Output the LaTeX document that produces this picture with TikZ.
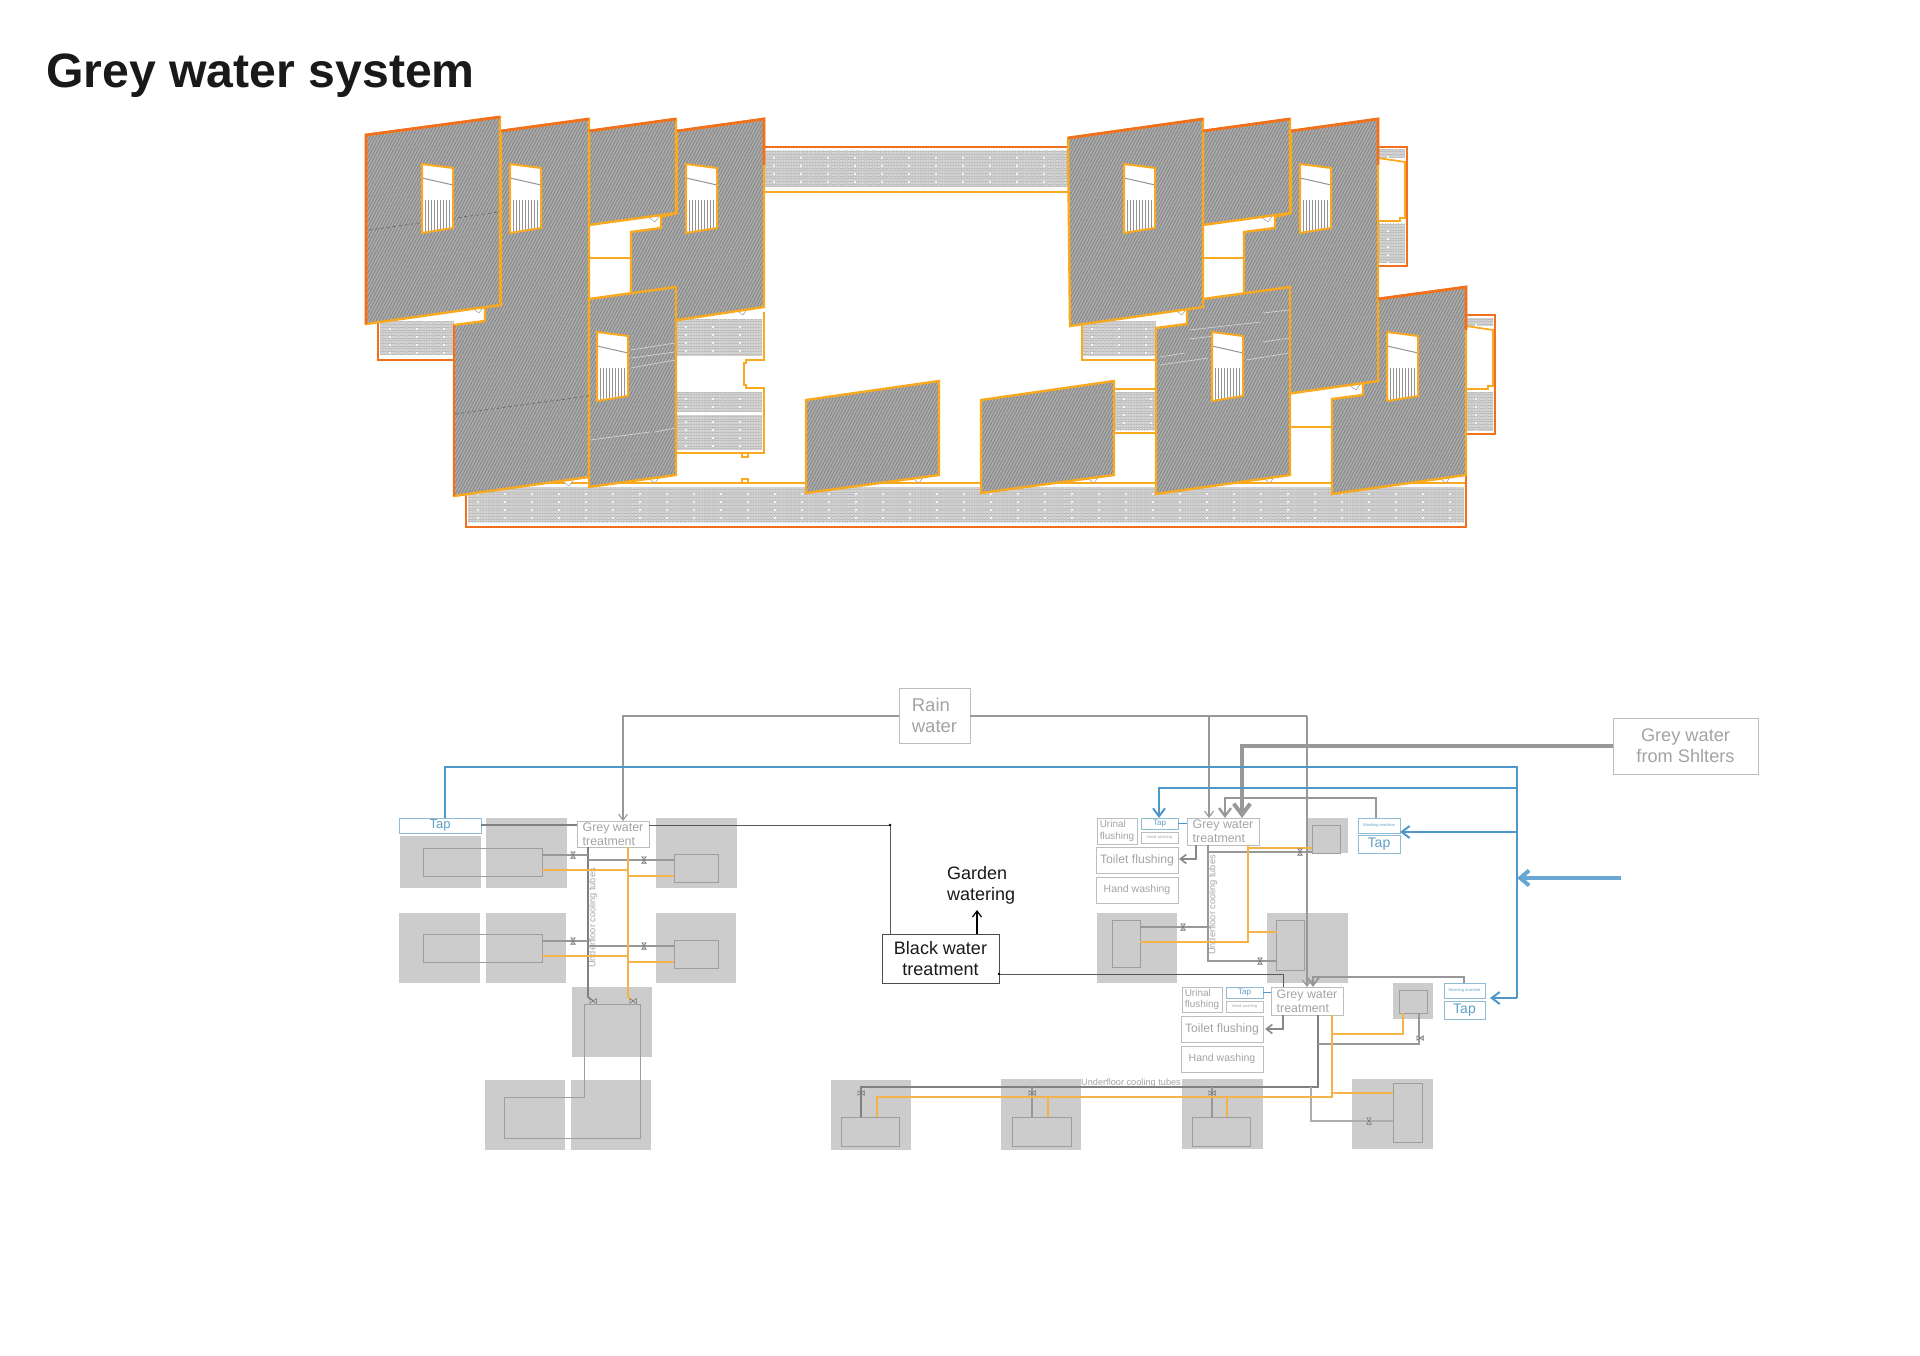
\documentclass[tikz,border=0pt]{standalone}
\usepackage{fontspec}
\setmainfont{Liberation Sans}
\usetikzlibrary{arrows.meta,patterns.meta}
\definecolor{orgD}{HTML}{F0701E}
\definecolor{orgA}{HTML}{F8A91F}
\definecolor{pipeO}{HTML}{F4B24A}
\definecolor{bluL}{HTML}{4F97CB}
\definecolor{bluB}{HTML}{8FBBD6}
\definecolor{bluT}{HTML}{5F9FC4}
\definecolor{greyL}{HTML}{989898}
\definecolor{greyB}{HTML}{BDBDBD}
\definecolor{greyT}{HTML}{A3A3A3}
\definecolor{roomC}{HTML}{CCCCCC}
\newcommand{\fsz}[1]{\pgfmathsetmacro\bsk{#1*1.17}\fontsize{#1}{\bsk}\selectfont}
\tikzset{
  sz/.style 2 args={anchor=north west,minimum width=#1pt,minimum height=#2pt},
  boxg/.style={draw=greyB,line width=1pt,inner sep=0pt,outer sep=0pt,text=greyT,align=center},
  boxb/.style={draw=bluB,line width=1pt,inner sep=0pt,outer sep=0pt,text=bluT,align=center},
  boxk/.style={draw=black!70,line width=1pt,inner sep=0pt,outer sep=0pt,text=black!90,align=center},
  treat/.style={boxg,font=\fontsize{12.4}{14}\selectfont,align=left},
  room/.style={fill=roomC,inner sep=0pt,outer sep=0pt},
  inrect/.style={draw=black!38,line width=1pt,inner sep=0pt,outer sep=0pt},
  panel/.style={draw=orgA,line width=2.4pt,line join=miter,preaction={fill=black!32},
    pattern={Lines[angle=62,distance=2.7pt,line width=1pt]},pattern color=black!47},
  edgeD/.style={draw=orgD,line width=2.8pt},
  edgeA/.style={draw=orgA,line width=1.8pt},
  pipeg/.style={draw=greyL,line width=1.1pt},
  pipeo/.style={draw=pipeO,line width=1.4pt},
  blueline/.style={draw=bluL,line width=2pt},
  tip/.style={-{Straight Barb[length=#1pt,width=#1*1.5pt]}},
  valve/.pic={\draw[black!55,line width=.6pt,fill=black!15] (-2.2,-3.2) -- (2.2,-3.2) -- (-2.2,3.2) -- (2.2,3.2) -- cycle;}
}
% one strip of the roof: grey grid with white studs
\newcommand{\corridor}[4]{
  \begin{scope}
    \clip (#1,#2) rectangle (#3,#4);
    \fill[black!16] (#1,#2) rectangle (#3,#4);
    \fill[pattern={Lines[angle=0,distance=2.7pt,line width=.8pt]},pattern color=black!28] (#1,#2) rectangle (#3,#4);
    \fill[pattern={Lines[angle=90,distance=2.7pt,line width=.7pt]},pattern color=black!22] (#1,#2) rectangle (#3,#4);
    \foreach \i in {0,...,38} \foreach \j in {0,...,4}
      \fill[white,opacity=.8] ({#1+9+\i*27},{#2+6+\j*8}) rectangle ++(2.4,2.4);
  \end{scope}
}
% window opening with its stair
\newcommand{\window}[2]{
  \begin{scope}
    \clip (#1,#2) -- ({#1+31},{#2+4}) -- ({#1+31},{#2+64}) -- (#1,{#2+69}) -- cycle;
    \fill[white] (#1,#2) rectangle ({#1+31},{#2+69});
    \foreach \i in {1,...,9}
      \draw[black!42,line width=1.1pt] ({#1+\i*3.1},{#2+36}) -- ++(0,34);
  \end{scope}
  \draw[black!42,line width=1pt] (#1,{#2+14}) -- ({#1+31},{#2+21});
  \draw[orgA,line width=2pt] (#1,#2) -- ({#1+31},{#2+4}) -- ({#1+31},{#2+64}) -- (#1,{#2+69}) -- cycle;
}
\begin{document}
\begin{tikzpicture}[x=1pt,y=-1pt,>=Stealth]
\useasboundingbox (0,0) rectangle (1920,1356);
\node[anchor=base west,inner sep=0pt,text=black!90,font=\bfseries\fontsize{48.2}{52}\selectfont] (title) at (46,88) {Grey water system};

% strips under the roofs
\corridor{764}{151}{1068}{187}
\corridor{1378}{150}{1405}{158}
\corridor{1378}{224}{1405}{263}
\corridor{1466}{318}{1493}{326}
\corridor{1466}{392}{1493}{431}
\corridor{380}{322}{454}{355}
\corridor{676}{320}{762}{356}
\corridor{676}{392}{762}{412}
\corridor{676}{415}{762}{450}
\corridor{1082}{322}{1156}{356}
\corridor{1114}{392}{1156}{430}
\corridor{468}{487}{1464}{522}
\draw[edgeD] (764,147) -- (1068,147);
\draw[edgeA] (764,192) -- (1068,192);
\draw[edgeD] (1378,147) -- (1407,147) -- (1407,266) -- (1378,266);
\draw[edgeA] (1378,158) -- (1405,162) -- (1405,218) -- (1400,218) -- (1400,221) -- (1378,221);
\draw[edgeD] (1466,315) -- (1495,315) -- (1495,434) -- (1466,434);
\draw[edgeA] (1466,326) -- (1493,330) -- (1493,386) -- (1488,386) -- (1488,389) -- (1466,389);
\draw[edgeD] (378,320) -- (378,360) -- (454,360);
\draw[edgeA] (764,312) -- (764,360) -- (746,360) -- (746,363) -- (744,363) -- (744,385) -- (746,385) -- (746,388) -- (764,388) -- (764,453) -- (676,453);
\draw[edgeA] (742,453) -- (742,457) -- (748,457) -- (748,453);
\draw[edgeA] (1082,325) -- (1082,360) -- (1156,360);
\draw[edgeA] (1114,389) -- (1156,389);
\draw[edgeA] (1114,433) -- (1156,433);
\draw[edgeA] (589,258) -- (631,258);
\draw[edgeA] (1203,258) -- (1244,258);
\draw[edgeA] (1290,427) -- (1332,427);
\draw[edgeA] (466,483) -- (1466,483);
\draw[edgeA] (742,483) -- (742,479) -- (748,479) -- (748,483);
\draw[edgeD] (466,490) -- (466,527) -- (1466,527) -- (1466,470);

% roof marks
\foreach \tx/\ty in {478/310,654/219,742/312,568/483,654/480,918/480,1181/312,1267/219,1355/387,1093/480,1269/480,1445/480}
  \draw[black!40,fill=white,line width=.5pt] (\tx-6,\ty-2) -- (\tx+6,\ty-4) -- (\tx+1,\ty+3) -- cycle;

% roof panels
\draw[panel] (677,131) -- (764,119) -- (764,307) -- (631,327) -- (631,232) -- (661,228) -- (661,217) -- (677,213) -- cycle;
\draw[panel] (589,131) -- (676,119) -- (676,213) -- (589,225) -- cycle;
\draw[panel] (501,131) -- (589,119) -- (589,477) -- (454,496) -- (454,325) -- (485,321) -- (485,307) -- (501,305) -- cycle;
\draw[panel] (589,299) -- (676,287) -- (676,475) -- (589,487) -- cycle;
\draw[panel] (366,135) -- (500,117) -- (500,305) -- (366,324) -- cycle;
\draw[panel] (806,400) -- (939,381) -- (939,475) -- (806,493) -- cycle;
\draw[panel] (981,400) -- (1114,381) -- (1114,475) -- (981,493) -- cycle;
\draw[panel] (1378,299) -- (1466,287) -- (1466,475) -- (1332,494) -- (1332,399) -- (1363,395) -- (1363,383) -- (1378,381) -- cycle;
\draw[panel] (1291,131) -- (1378,119) -- (1378,381) -- (1244,400) -- (1244,232) -- (1275,228) -- (1275,217) -- (1291,213) -- cycle;
\draw[panel] (1203,299) -- (1290,287) -- (1290,475) -- (1156,494) -- (1156,328) -- (1187,324) -- (1187,310) -- (1203,305) -- cycle;
\draw[panel] (1203,131) -- (1290,119) -- (1290,213) -- (1203,225) -- cycle;
\draw[panel] (1068,138) -- (1203,119) -- (1203,307) -- (1070,326) -- cycle;
% darker edges
\draw[edgeD] (366,324) -- (366,135) -- (500,117);
\draw[edgeD] (454,496) -- (454,325);
\draw[edgeD] (501,131) -- (589,119);
\draw[edgeD] (589,131) -- (676,119);
\draw[edgeD] (677,131) -- (764,119) -- (764,165);
\draw[edgeD] (1068,138) -- (1203,119);
\draw[edgeD] (1203,131) -- (1290,119);
\draw[edgeD] (1291,131) -- (1378,119) -- (1378,165);
\draw[edgeD] (1378,299) -- (1466,287) -- (1466,330);
% seams and faint lines on the panels
\draw[black!60,line width=.7pt,dashed] (369,230) -- (499,212);
\draw[black!60,line width=.7pt,dashed] (455,414) -- (589,396);
\foreach \ax/\ay/\bx/\by in {631/350/675/343,631/358/675/352,631/368/675/360,590/440/650/432,655/432/675/428,1189/330/1261/322,1189/339/1223/335,1160/357/1185/353,1160/365/1208/358,1246/360/1289/353,1263/342/1289/338,1263/313/1289/310}
  \draw[black!18,line width=.7pt] (\ax,\ay) -- (\bx,\by);
% windows
\window{422}{164}
\window{510}{164}
\window{686}{164}
\window{597}{332}
\window{1124}{164}
\window{1300}{164}
\window{1212}{332}
\window{1387}{332}

% rooms of the plan
\foreach \n/\x/\y/\w/\h in {rA/400/836/81/52,rB/486/818/81/70,rC/656/818/81/70,rD/399/913/81/70,rE/486/913/80/70,rF/656/913/80/70,rG/572/987/80/70,rH/485/1080/80/70,rI/571/1080/80/70,rJ/1097/913/80/70,rK/1267/913/81/70,rL/1307/818/41/35,rM/1393/983/40/36,rN/831/1080/80/70,rO/1001/1079/80/71,rP/1182/1079/81/70,rQ/1352/1079/81/70}
  \node[room,sz={\w}{\h}] (\n) at (\x,\y) {};
\foreach \n/\x/\y/\w/\h in {iA/423/848/119/28,iB/423/934/119/28,iC/674/854/44/28,iD/674/940/44/28,iE/1112/920/28/47,iF/1276/920/28/50,iG/1312/825/28/28,iH/1399/990/28/23,iI/841/1117/58/29,iJ/1012/1117/59/29,iK/1192/1117/58/29,iL/1393/1083/29/59}
  \node[inrect,sz={\w}{\h}] (\n) at (\x,\y) {};
\coordinate (lpA) at (584,1004);
\coordinate (lpB) at (640,1004);
\coordinate (lpC) at (640,1138);
\coordinate (lpD) at (504,1138);
\coordinate (lpE) at (504,1097);
\coordinate (lpF) at (584,1097);
\draw[inrect] (lpA) -- (lpB) -- (lpC) -- (lpD) -- (lpE) -- (lpF) -- cycle;

% labelled boxes
\node[boxg,sz={71}{55},font=\fsz{18.5},align=left] (rain) at (899,688) {Rain\\water};
\node[boxg,sz={145}{56},font=\fsz{18.2}] (shelter) at (1613,718) {Grey water\\from Shlters};
\node[boxk,sz={117}{49},font=\fsz{18}] (black) at (882,934) {Black water\\treatment};
\node[inner sep=0pt,align=left,anchor=north west,text=black!90,font=\fsz{18}] (garden) at (947,866) {Garden\\watering};
\node[boxb,sz={82}{15},font=\fsz{13}] (tapL) at (399,818) {Tap};
\node[treat,sz={72}{26}] (treatL) at (577,821) {Grey water\\treatment};
\node[treat,sz={72}{27}] (treatR) at (1187,818) {Grey water\\treatment};
\node[treat,sz={72}{28}] (treatB) at (1271,987) {Grey water\\treatment};
\node[boxg,sz={40}{26},font=\fsz{10},align=left] (urinR) at (1097,818) {Urinal\\flushing};
\node[boxb,sz={37}{11},font=\fsz{8}] (tapR) at (1141,818) {Tap};
\node[boxg,sz={37}{11},font=\fsz{4}] (handtR) at (1141,832) {Hand washing};
\node[boxg,sz={82}{26},font=\fsz{12.2}] (toilR) at (1096,847) {Toilet flushing};
\node[boxg,sz={82}{26},font=\fsz{10.5}] (handR) at (1096,877) {Hand washing};
\node[boxb,sz={42}{15},font=\fsz{4}] (washR) at (1358,818) {Washing machine};
\node[boxb,sz={42}{18},font=\fsz{14}] (tapW) at (1358,835) {Tap};
\node[boxg,sz={40}{25},font=\fsz{10},align=left] (urinB) at (1182,987) {Urinal\\flushing};
\node[boxb,sz={37}{11},font=\fsz{8}] (tapB) at (1226,987) {Tap};
\node[boxg,sz={37}{11},font=\fsz{4}] (handtB) at (1226,1001) {Hand washing};
\node[boxg,sz={82}{26},font=\fsz{12.2}] (toilB) at (1181,1016) {Toilet flushing};
\node[boxg,sz={82}{26},font=\fsz{10.5}] (handB) at (1181,1046) {Hand washing};
\node[boxb,sz={41}{15},font=\fsz{4}] (washB) at (1444,983) {Washing machine};
\node[boxb,sz={41}{18},font=\fsz{14}] (tapZ) at (1444,1001) {Tap};
\node[text=greyT,inner sep=0pt,font=\fsz{9.2},rotate=90] (ufL) at (593,918) {Underfloor cooling tubes};
\node[text=greyT,inner sep=0pt,font=\fsz{9.2},rotate=90] (ufR) at (1213,905) {Underfloor cooling tubes};
\node[text=greyT,inner sep=0pt,font=\fsz{9.2}] (ufB) at (1131,1083) {Underfloor cooling tubes};

% junction points of the supply lines
\foreach \n/\x/\y in {rainL/623/716,rainM/1209/716,rainR/1307/716,inL/623/821,inR/1209/818,inB/1307/987,
  heavyA/1242/746,heavyB/1242/818,washA/1376/818,washC/1225/798,washD/1225/818,
  wbA/1464/983,wbC/1313/977,wbD/1313/987,
  blueA/445/767,blueB/1517/767,blueC/1159/788,blueD/1159/818,blueE/1517/788,blueF/1517/832,blueG/1517/998,blueH/1490/998,blueI/1517/878,blueJ/1621/878,
  tapLr/481/825,tapTl/577/825,blkA/649/825,blkB/890/825,blkC/890/934,blkD/999/974,blkE/1283/974,blkF/1283/987,
  gardA/977/934,gardB/977/910,
  toilA/1196/845,toilB/1196/859,toilC/1179/859,toiA/1283/1015,toiB/1283/1029,toiC/1265/1029,
  tapRa/1178/823,tapRb/1187/823,tapBa/1263/992,tapBb/1271/992}
  \coordinate (\n) at (\x,\y);
\draw[pipeg,tip=6] (rain.west |- rainL) -- (rainL) -- (inL);
\draw[pipeg] (rain.east |- rainL) -- (rainR);
\draw[pipeg,tip=6] (rainM) -- (inR);
\draw[pipeg,tip=6] (rainR) -- (inB);
\draw[draw=greyL,line width=4pt,tip=11] (shelter.west |- heavyA) -- (heavyA) -- (heavyB);
\draw[draw=greyL,line width=2.3pt,tip=8] (washR.north -| washA) -- (washA |- washC) -- (washC) -- (washD);
\draw[draw=greyL,line width=2pt,tip=8] (washB.north -| wbA) -- (wbA |- wbC) -- (wbC) -- (wbD);
\draw[blueline] (tapL.north -| blueA) -- (blueA) -- (blueB) -- (blueG);
\draw[blueline,tip=8] (blueE) -- (blueC) -- (blueD);
\draw[blueline,tip=8] (blueF) -- (washR.east |- blueF);
\draw[blueline,tip=8] (blueG) -- (blueH);
\draw[draw=bluL!85,line width=4pt,-{Straight Barb[length=9pt,width=15pt]}] (blueJ) -- (blueI);
\draw[draw=bluL,line width=1pt] (tapRa) -- (tapRb);
\draw[draw=bluL,line width=1pt] (tapBa) -- (tapBb);
\draw[draw=black!50,line width=1.2pt] (tapLr) -- (tapTl);
\draw[draw=black!65,line width=1pt] (blkA) -- (blkB) -- (blkC);
\draw[draw=black!65,line width=1pt] (blkD) -- (blkE) -- (blkF);
\fill[black] (blkB) circle (1.3pt);
\fill[black] (blkD) circle (1.3pt);
\draw[black,line width=1.2pt,tip=6] (gardA) -- (gardB);
\draw[draw=greyL!90!black,line width=1.6pt,tip=6] (toilA) -- (toilB) -- (toilC);
\draw[draw=greyL!90!black,line width=1.6pt,tip=6] (toiA) -- (toiB) -- (toiC);

% pipes of the left wing
\foreach \n/\x/\y in {lg1/588/847,lg2/588/997,lg3/593/1001,lA1/542/855,lA2/588/855,lB1/588/860,lB2/674/860,lC1/542/941,lC2/588/941,lD1/588/946,lD2/674/946,
  lo1/628/847,lo2/628/997,lo3/633/1001,lE1/542/870,lE2/628/870,lF1/628/876,lF2/674/876,lG1/542/956,lG2/628/956,lH1/628/962,lH2/674/962,
  rg1/1208/845,rg2/1208/961,rg3/1276/961,rg4/1208/852,rg5/1312/852,rg6/1140/927,rg7/1208/927,
  ro1/1248/845,ro2/1248/942,ro3/1140/942,ro4/1248/848,ro5/1312/848,ro6/1248/932,ro7/1277/932,
  bg1/1318/1015,bg2/1318/1087,bg3/861/1087,bg4/861/1117,bg5/1032/1087,bg6/1032/1117,bg7/1212/1087,bg8/1212/1117,bg9/1318/1044,bg10/1419/1044,bg11/1419/1013,bg12/1311/1087,bg13/1311/1121,bg14/1393/1121,
  bo1/1332/1015,bo2/1332/1097,bo3/877/1097,bo4/877/1117,bo5/1048/1097,bo6/1048/1117,bo7/1227/1097,bo8/1227/1117,bo9/1332/1034,bo10/1403/1034,bo11/1403/1013,bo12/1332/1093,bo13/1393/1093}
  \coordinate (\n) at (\x,\y);
\draw[pipeg,line width=1.6pt,draw=black!50] (lg1) -- (lg2) -- (lg3);
\draw[pipeg] (lA1) -- (lA2);
\draw[pipeg] (lB1) -- (lB2);
\draw[pipeg] (lC1) -- (lC2);
\draw[pipeg] (lD1) -- (lD2);
\draw[pipeo,line width=1.8pt] (lo1) -- (lo2) -- (lo3);
\draw[pipeo] (lE1) -- (lE2);
\draw[pipeo] (lF1) -- (lF2);
\draw[pipeo] (lG1) -- (lG2);
\draw[pipeo] (lH1) -- (lH2);
% right wing
\draw[pipeg] (rg1) -- (rg2) -- (rg3);
\draw[pipeg] (rg4) -- (rg5);
\draw[pipeg] (rg6) -- (rg7);
\draw[pipeo] (ro1) -- (ro2) -- (ro3);
\draw[pipeo] (ro4) -- (ro5);
\draw[pipeo] (ro6) -- (ro7);
% bottom row
\draw[pipeg,draw=black!50] (bg1) -- (bg2) -- (bg3) -- (bg4);
\draw[pipeg] (bg5) -- (bg6);
\draw[pipeg] (bg7) -- (bg8);
\draw[pipeg] (bg9) -- (bg10) -- (bg11);
\draw[pipeg,draw=greyL!80] (bg12) -- (bg13) -- (bg14);
\draw[pipeo,line width=1.8pt] (bo1) -- (bo2) -- (bo3) -- (bo4);
\draw[pipeo] (bo5) -- (bo6);
\draw[pipeo] (bo7) -- (bo8);
\draw[pipeo] (bo9) -- (bo10) -- (bo11);
\draw[pipeo] (bo12) -- (bo13);

% valves
\foreach \vx/\vy in {573/855,644/860,573/941,644/946,1300/852,1183/927,1260/961,1369/1121}
  \pic at (\vx,\vy) {valve};
\foreach \vx/\vy in {593/1001,633/1001,861/1093,1032/1093,1212/1093,1420/1038}
  \pic[rotate=90] at (\vx,\vy) {valve};
\end{tikzpicture}
\end{document}
